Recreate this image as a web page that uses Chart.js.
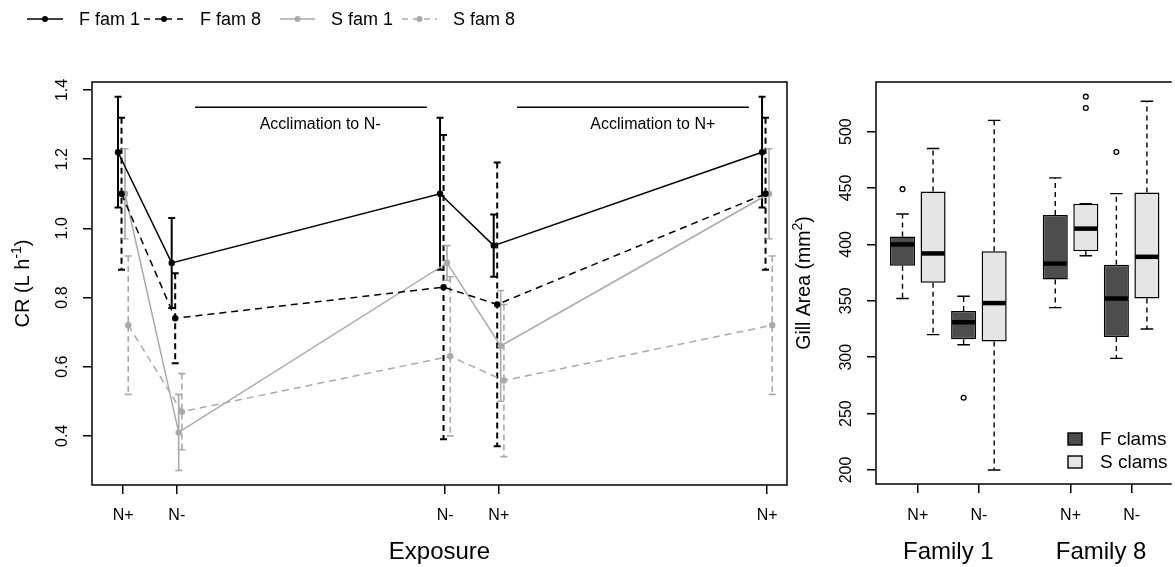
<!DOCTYPE html>
<html>
<head>
<meta charset="utf-8">
<script src="https://cdn.jsdelivr.net/npm/chart.js"></script>
<style>
html, body { margin: 0; padding: 0; background: #fff; }
body { width: 1175px; height: 567px; position: relative; overflow: hidden; }
#crChart { position: absolute; left: 0; top: 0; }
#gillChart { position: absolute; left: 780px; top: 0; }
</style>
</head>
<body>
<canvas id="crChart" width="800" height="567"></canvas>
<canvas id="gillChart" width="395" height="567"></canvas>
<script>
// ---- clearance rate (left panel) ----
var exposureLabels = ['N+', 'N-', 'N-', 'N+', 'N+'];
var exposureDay = [0, 1, 6, 7, 12];
var seriesNames = ['F fam 1', 'F fam 8', 'S fam 1', 'S fam 8'];
var fFam1 = [1.22, 0.90, 1.10, 0.95, 1.22];
var fFam1Err = [0.16, 0.13, 0.22, 0.09, 0.16];
var fFam8 = [1.10, 0.74, 0.83, 0.78, 1.10];
var fFam8Err = [0.22, 0.13, 0.44, 0.41, 0.22];
var sFam1 = [1.10, 0.41, 0.90, 0.66, 1.10];
var sFam1Err = [0.13, 0.11, 0.05, 0.16, 0.13];
var sFam8 = [0.72, 0.47, 0.63, 0.56, 0.72];
var sFam8Err = [0.20, 0.11, 0.23, 0.22, 0.20];
var crTicks = [0.4, 0.6, 0.8, 1.0, 1.2, 1.4];
var acclimLabels = ['Acclimation to N-', 'Acclimation to N+'];
var acclimFrom = [1.34, 7.34];
var acclimTo = [5.66, 11.66];
var acclimTextAt = [3.67, 9.87];

// ---- gill area (right panel) ----
var gillTickLabels = ['N+', 'N-', 'N+', 'N-'];
var gillTickPos = [1.5, 3.5, 6.5, 8.5];
var familyLabels = ['Family 1', 'Family 8'];
var familyPos = [2.5, 7.5];
var clamTypes = ['F clams', 'S clams'];
var boxType = [0, 1, 0, 1, 0, 1, 0, 1];
var boxPos = [1, 2, 3, 4, 6, 7, 8, 9];
var gillLow = [352, 320, 311, 200, 344, 390, 299, 325];
var gillQ1 = [381, 366, 316, 314, 369, 394, 318, 352];
var gillMed = [400, 392, 331, 348, 383, 414, 352, 389];
var gillQ3 = [407, 447, 341, 394, 426, 436, 382, 446];
var gillHigh = [427, 485, 354, 510, 459, 436, 445, 527];
var outlierPos = [1, 3, 7, 7, 8];
var outlierVal = [449, 264, 521, 531, 482];
var gillTicks = [200, 250, 300, 350, 400, 450, 500];

var FONT = '"Liberation Sans", Arial, sans-serif';
var GRAY = '#a9a9a9';
var seriesColor = ['#000000', '#000000', GRAY, GRAY];
var seriesDash = [[], [7, 5], [], [7, 5]];
var seriesShift = [-0.095, -0.03, 0.035, 0.095];
var seriesMean = [fFam1, fFam8, sFam1, sFam8];
var seriesErr = [fFam1Err, fFam8Err, sFam1Err, sFam8Err];
var boxFill = ['#4d4d4d', '#e5e5e5'];

function rotatedTitle(ctx, cx, cy, parts, size) {
    var sup = Math.round(size * 0.7);
    ctx.save();
    ctx.translate(cx, cy);
    ctx.rotate(-Math.PI / 2);
    ctx.fillStyle = '#000';
    ctx.textAlign = 'left';
    ctx.textBaseline = 'alphabetic';
    var total = 0;
    parts.forEach(function (p) {
        ctx.font = (p[1] ? sup : size) + 'px ' + FONT;
        total += ctx.measureText(p[0]).width;
    });
    var x = -total / 2;
    parts.forEach(function (p) {
        ctx.font = (p[1] ? sup : size) + 'px ' + FONT;
        ctx.fillText(p[0], x, p[1] ? size * 0.35 - size * 0.42 : size * 0.35);
        x += ctx.measureText(p[0]).width;
    });
    ctx.restore();
}

function rotatedTicks(ctx, scale, values, cx, size) {
    ctx.save();
    ctx.font = size + 'px ' + FONT;
    ctx.fillStyle = '#000';
    ctx.textAlign = 'center';
    ctx.textBaseline = 'middle';
    values.forEach(function (v) {
        var y = scale.getPixelForValue(v);
        ctx.save();
        ctx.translate(cx, y);
        ctx.rotate(-Math.PI / 2);
        ctx.fillText(Number.isInteger(v) && v < 10 ? v.toFixed(1) : String(v), 0, 0);
        ctx.restore();
    });
    ctx.restore();
}

function flatTicks(ctx, scale, values, labels, y, size) {
    ctx.save();
    ctx.font = size + 'px ' + FONT;
    ctx.fillStyle = '#000';
    ctx.textAlign = 'center';
    ctx.textBaseline = 'middle';
    values.forEach(function (v, i) {
        ctx.fillText(labels[i], scale.getPixelForValue(v), y);
    });
    ctx.restore();
}

var crExtras = {
    id: 'crExtras',
    beforeDatasetsDraw: function (chart) {
        var ctx = chart.ctx, xs = chart.scales.x, ys = chart.scales.y;
        ctx.save();
        seriesMean.forEach(function (means, s) {
            ctx.strokeStyle = seriesColor[s];
            ctx.lineWidth = s < 2 ? 2 : 1.6;
            means.forEach(function (m, j) {
                var x = xs.getPixelForValue(exposureDay[j] + seriesShift[s]);
                var top = ys.getPixelForValue(m + seriesErr[s][j]);
                var bot = ys.getPixelForValue(m - seriesErr[s][j]);
                ctx.setLineDash(seriesDash[s].length ? [6, 4] : []);
                ctx.beginPath(); ctx.moveTo(x, top); ctx.lineTo(x, bot); ctx.stroke();
                ctx.setLineDash([]);
                ctx.beginPath();
                ctx.moveTo(x - 3.5, top); ctx.lineTo(x + 3.5, top);
                ctx.moveTo(x - 3.5, bot); ctx.lineTo(x + 3.5, bot);
                ctx.stroke();
            });
        });
        ctx.restore();
    },
    afterDraw: function (chart) {
        var ctx = chart.ctx, a = chart.chartArea, xs = chart.scales.x, ys = chart.scales.y;
        ctx.save();
        ctx.strokeStyle = '#000';
        ctx.lineWidth = 1.5;
        ctx.strokeRect(a.left, a.top, a.right - a.left, a.bottom - a.top);

        // acclimation periods
        var ly = ys.getPixelForValue(1.35);
        var ty = ys.getPixelForValue(1.30);
        ctx.font = '16px ' + FONT;
        ctx.fillStyle = '#000';
        ctx.textAlign = 'center';
        ctx.textBaseline = 'middle';
        acclimLabels.forEach(function (t, i) {
            ctx.beginPath();
            ctx.moveTo(xs.getPixelForValue(acclimFrom[i]), ly);
            ctx.lineTo(xs.getPixelForValue(acclimTo[i]), ly);
            ctx.stroke();
            ctx.fillText(t, xs.getPixelForValue(acclimTextAt[i]), ty);
        });

        // axis labels
        rotatedTicks(ctx, ys, crTicks, 63, 16);
        flatTicks(ctx, xs, exposureDay, exposureLabels, 516, 16);
        rotatedTitle(ctx, 22, (a.top + a.bottom) / 2, [['CR (L h', false], ['-1', true], [')', false]], 20);
        ctx.font = '24px ' + FONT;
        ctx.textAlign = 'center';
        ctx.textBaseline = 'middle';
        ctx.fillText('Exposure', (a.left + a.right) / 2, 552);

        // legend across the top
        var legX = [27, 144, 280, 402];
        var legW = [36, 40, 35, 35];
        ctx.font = '18px ' + FONT;
        ctx.textAlign = 'left';
        seriesNames.forEach(function (name, s) {
            var x0 = legX[s], x1 = legX[s] + legW[s], y = 19;
            ctx.strokeStyle = seriesColor[s];
            ctx.fillStyle = seriesColor[s];
            ctx.lineWidth = 1.5;
            ctx.setLineDash(seriesDash[s].length ? [6, 5] : []);
            ctx.beginPath(); ctx.moveTo(x0, y); ctx.lineTo(x1, y); ctx.stroke();
            ctx.setLineDash([]);
            ctx.beginPath(); ctx.arc((x0 + x1) / 2, y, 3, 0, Math.PI * 2); ctx.fill();
            ctx.fillStyle = '#000';
            ctx.fillText(name, x1 + 16, y + 1);
        });
        ctx.restore();
    }
};

new Chart(document.getElementById('crChart'), {
    type: 'line',
    data: {
        datasets: seriesNames.map(function (name, s) {
            return {
                label: name,
                data: seriesMean[s].map(function (v, j) {
                    return { x: exposureDay[j] + seriesShift[s], y: v };
                }),
                borderColor: seriesColor[s],
                backgroundColor: seriesColor[s],
                borderWidth: 1.5,
                borderDash: seriesDash[s],
                pointRadius: 3.2,
                pointBorderWidth: 0,
                pointBackgroundColor: seriesColor[s],
                tension: 0
            };
        })
    },
    options: {
        responsive: false,
        animation: false,
        events: [],
        layout: { padding: { top: 82, right: 13, left: 0, bottom: 0 } },
        plugins: { legend: { display: false }, tooltip: { enabled: false } },
        scales: {
            x: {
                type: 'linear', min: -0.58, max: 12.37,
                afterBuildTicks: function (s) { s.ticks = exposureDay.map(function (v) { return { value: v }; }); },
                afterFit: function (s) { s.height = 82; },
                ticks: { display: false },
                border: { display: false },
                grid: { drawOnChartArea: false, color: '#000', lineWidth: 1.5, tickLength: 9 }
            },
            y: {
                type: 'linear', min: 0.258, max: 1.423,
                afterBuildTicks: function (s) { s.ticks = crTicks.map(function (v) { return { value: v }; }); },
                afterFit: function (s) { s.width = 92; },
                ticks: { display: false },
                border: { display: false },
                grid: { drawOnChartArea: false, color: '#000', lineWidth: 1.5, tickLength: 9 }
            }
        }
    },
    plugins: [crExtras]
});

var OFF = 780;
var gillExtras = {
    id: 'gillExtras',
    beforeDatasetsDraw: function (chart) {
        var ctx = chart.ctx, xs = chart.scales.x, ys = chart.scales.y;
        var half = (xs.getPixelForValue(1) - xs.getPixelForValue(0)) * 0.82 / 4;
        ctx.save();
        ctx.strokeStyle = '#000';
        ctx.lineWidth = 1.4;
        boxPos.forEach(function (p, i) {
            var x = xs.getPixelForValue(p);
            var hi = ys.getPixelForValue(gillHigh[i]), q3 = ys.getPixelForValue(gillQ3[i]);
            var lo = ys.getPixelForValue(gillLow[i]), q1 = ys.getPixelForValue(gillQ1[i]);
            ctx.setLineDash([5, 4]);
            ctx.beginPath();
            ctx.moveTo(x, q3); ctx.lineTo(x, hi);
            ctx.moveTo(x, q1); ctx.lineTo(x, lo);
            ctx.stroke();
            ctx.setLineDash([]);
            ctx.beginPath();
            ctx.moveTo(x - half, hi); ctx.lineTo(x + half, hi);
            ctx.moveTo(x - half, lo); ctx.lineTo(x + half, lo);
            ctx.stroke();
        });
        ctx.restore();
    },
    afterDraw: function (chart) {
        var ctx = chart.ctx, a = chart.chartArea, xs = chart.scales.x, ys = chart.scales.y;
        var half = (xs.getPixelForValue(1) - xs.getPixelForValue(0)) * 0.82 / 2;
        ctx.save();
        // medians
        ctx.strokeStyle = '#000';
        ctx.lineWidth = 4.5;
        boxPos.forEach(function (p, i) {
            var x = xs.getPixelForValue(p), y = ys.getPixelForValue(gillMed[i]);
            ctx.beginPath(); ctx.moveTo(x - half + 1, y); ctx.lineTo(x + half - 1, y); ctx.stroke();
        });
        // frame
        ctx.lineWidth = 1.5;
        ctx.beginPath();
        ctx.moveTo(a.right + 2, a.top); ctx.lineTo(a.left, a.top);
        ctx.lineTo(a.left, a.bottom); ctx.lineTo(a.right + 2, a.bottom);
        ctx.stroke();

        rotatedTicks(ctx, ys, gillTicks, 846.7 - OFF, 16);
        flatTicks(ctx, xs, gillTickPos, gillTickLabels, 516, 16);
        flatTicks(ctx, xs, familyPos, familyLabels, 552, 24);
        rotatedTitle(ctx, 803 - OFF, (a.top + a.bottom) / 2, [['Gill Area (mm', false], ['2', true], [')', false]], 19.5);

        // legend
        ctx.font = '19px ' + FONT;
        ctx.textAlign = 'left';
        ctx.textBaseline = 'middle';
        var legY = [439, 462];
        clamTypes.forEach(function (t, k) {
            ctx.fillStyle = boxFill[k];
            ctx.fillRect(1068 - OFF, legY[k] - 6, 14, 12);
            ctx.lineWidth = 1.4;
            ctx.strokeStyle = '#000';
            ctx.strokeRect(1068 - OFF, legY[k] - 6, 14, 12);
            ctx.fillStyle = '#000';
            ctx.fillText(t, 1100 - OFF, legY[k] + 1);
        });
        ctx.restore();
    }
};

new Chart(document.getElementById('gillChart'), {
    type: 'bar',
    data: {
        datasets: [{
            type: 'bar',
            label: 'boxes',
            data: boxPos.map(function (p, i) { return { x: p, y: [gillQ1[i], gillQ3[i]] }; }),
            backgroundColor: boxType.map(function (t) { return boxFill[t]; }),
            borderColor: '#000',
            borderWidth: 1.5,
            borderSkipped: false,
            categoryPercentage: 1,
            barPercentage: 0.82
        }, {
            type: 'scatter',
            label: 'outliers',
            data: outlierPos.map(function (p, i) { return { x: p, y: outlierVal[i] }; }),
            pointRadius: 2.4,
            pointBorderWidth: 1.3,
            pointBorderColor: '#000',
            pointBackgroundColor: '#fff',
            showLine: false
        }]
    },
    options: {
        responsive: false,
        animation: false,
        events: [],
        layout: { padding: { top: 82, right: 0, left: 0, bottom: 0 } },
        plugins: { legend: { display: false }, tooltip: { enabled: false } },
        scales: {
            x: {
                type: 'linear', min: 0.132, max: 9.746, offset: false,
                afterBuildTicks: function (s) { s.ticks = gillTickPos.map(function (v) { return { value: v }; }); },
                afterFit: function (s) { s.height = 83; },
                ticks: { display: false },
                border: { display: false },
                grid: { drawOnChartArea: false, color: '#000', lineWidth: 1.5, tickLength: 9, offset: false }
            },
            y: {
                type: 'linear', min: 187.6, max: 544,
                afterBuildTicks: function (s) { s.ticks = gillTicks.map(function (v) { return { value: v }; }); },
                afterFit: function (s) { s.width = 96; },
                ticks: { display: false },
                border: { display: false },
                grid: { drawOnChartArea: false, color: '#000', lineWidth: 1.5, tickLength: 9 }
            }
        }
    },
    plugins: [gillExtras]
});
</script>
</body>
</html>
